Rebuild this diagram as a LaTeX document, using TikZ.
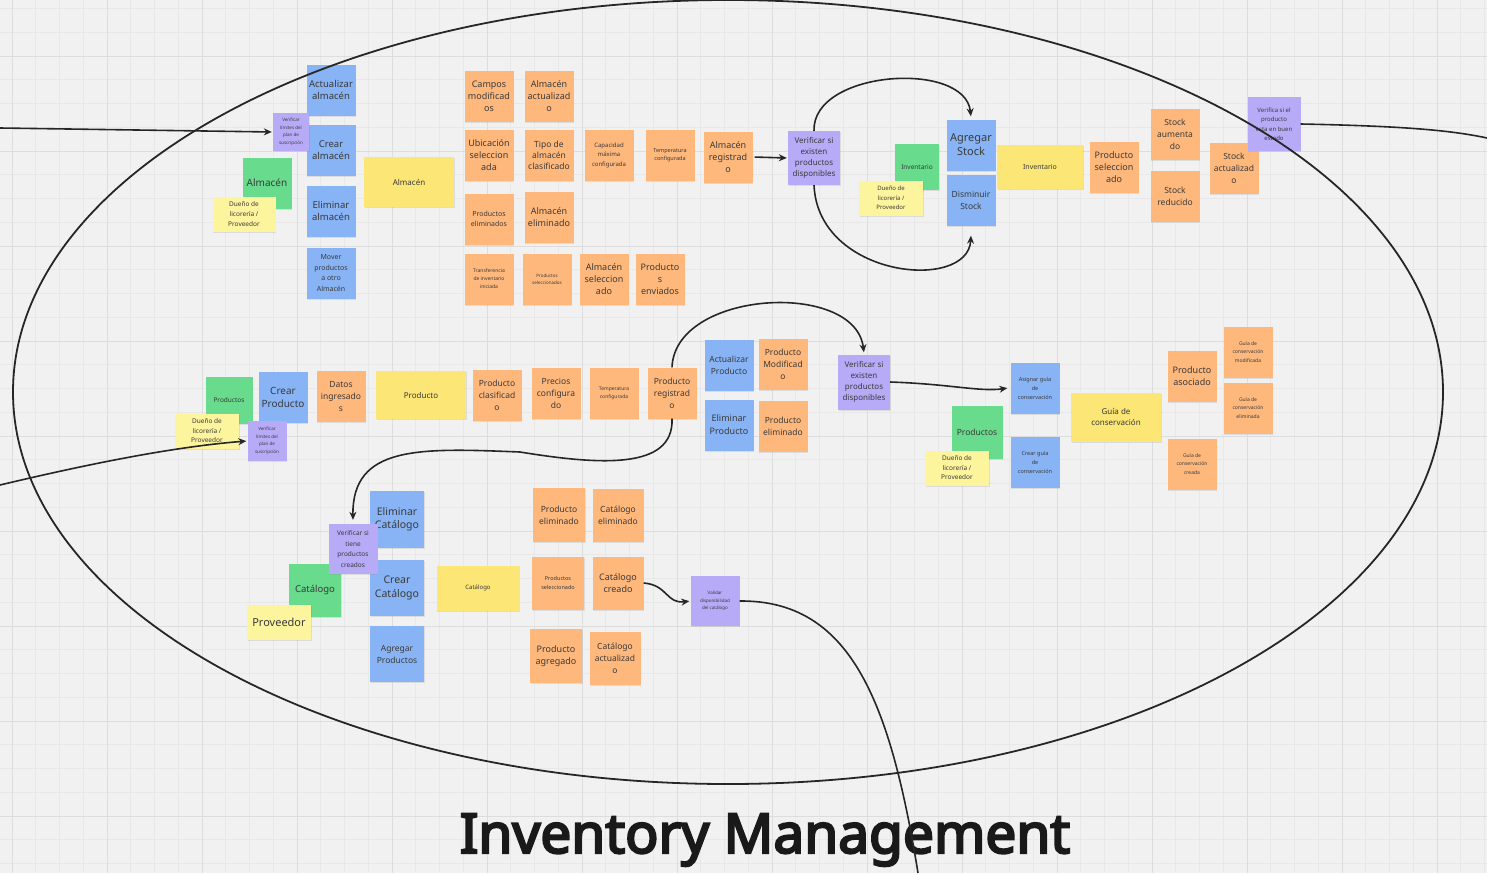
\documentclass[tikz,border=0pt]{standalone}
\usepackage{fontspec}
\setmainfont{Noto Sans}
\newfontfamily\titlefont{Noto Sans}[FakeBold=4]
\usetikzlibrary{arrows.meta,shadows}
\definecolor{paper}{HTML}{F1F1F1}
\definecolor{gridminor}{HTML}{E8E8E8}
\definecolor{gridmajor}{HTML}{DDDDDD}
\definecolor{ink}{HTML}{3A3A3A}
\definecolor{wire}{HTML}{262626}
\definecolor{cmdfill}{HTML}{88B4F6}
\definecolor{evtfill}{HTML}{FFB87C}
\definecolor{aggfill}{HTML}{FCE676}
\definecolor{usrfill}{HTML}{FDF59D}
\definecolor{actfill}{HTML}{68DB8D}
\definecolor{polfill}{HTML}{B7AAF7}
\newcommand\fsz[2]{\fontsize{#1}{#2}\selectfont}

\begin{document}
\begin{tikzpicture}[x=1pt,y=-1pt,
    note/.style={inner sep=1pt, align=center, text=ink, minimum width=49pt, minimum height=51pt,
        drop shadow={shadow xshift=0.7pt, shadow yshift=-1.2pt, opacity=.18}},
    cmdnote/.style={note, fill=cmdfill},
    evtnote/.style={note, fill=evtfill},
    actnote/.style={note, fill=actfill},
    polnote/.style={note, fill=polfill},
    aggnote/.style={note, fill=aggfill, minimum width=90pt, minimum height=49pt},
    usrnote/.style={note, fill=usrfill, minimum width=64pt, minimum height=35pt},
    flow/.style={wire, line width=1.6pt, -{Stealth[length=8pt,width=7pt]}, shorten >=1pt},
    wireline/.style={wire, line width=1.6pt},
    ring/.style={wire, line width=1.8pt}]
	    \useasboundingbox (0,0) rectangle (1487,873);
	    \fill[paper] (0,0) rectangle (1487,873);
	    \foreach \k in {0,...,62} \draw[gridminor, line width=.6pt] ({12+23.75*\k},0) -- ++(0,873);
	    \foreach \k in {0,...,36} \draw[gridminor, line width=.6pt] (0,{8.5+23.75*\k}) -- ++(1487,0);
	    \foreach \k in {0,...,15} \draw[gridmajor, line width=.9pt] ({12+95*\k},0) -- ++(0,873);
	    \foreach \k in {0,...,8} \draw[gridmajor, line width=.9pt] (0,{56+95*\k}) -- ++(1487,0);

	    % Almacen
	    \node[cmdnote, font=\fsz{9.5}{12}] (AA) at (331,90) {Actualizar\\almacén};
	    \node[cmdnote, font=\fsz{9.5}{12}] (AC) at (331,150) {Crear\\almacén};
	    \node[polnote, minimum width=36pt, minimum height=38pt, font=\fsz{4.5}{7.5}] (AB) at (291,132) {Verificar\\límites del\\plan de\\suscripción};
	    \node[actnote, font=\fsz{10}{12}] (AD) at (267,183) {Almacén};
	    \node[usrnote, minimum width=63pt, font=\fsz{6.5}{10}] (AE) at (244,214) {Dueño de\\licorería /\\Proveedor};
	    \node[cmdnote, font=\fsz{9.5}{12}] (AF) at (331,211) {Eliminar\\almacén};
	    \node[cmdnote, font=\fsz{7}{10.5}] (AG) at (331,273) {Mover\\productos\\a otro\\Almacén};
	    \node[aggnote, minimum height=50pt, font=\fsz{8}{10}] (AH) at (409,182) {Almacén};
	    \node[evtnote, font=\fsz{9}{12}] (AI) at (489,96) {Campos\\modificad\\os};
	    \node[evtnote, font=\fsz{9}{12}] (AJ) at (549,96) {Almacén\\actualizad\\o};
	    \node[evtnote, font=\fsz{9}{12}] (AK) at (489,155) {Ubicación\\seleccion\\ada};
	    \node[evtnote, font=\fsz{8.5}{11}] (AL) at (549,155) {Tipo de\\almacén\\clasificado};
	    \node[evtnote, font=\fsz{6}{9.5}] (AM) at (609,155) {Capacidad\\máxima\\configurada};
	    \node[evtnote, font=\fsz{5.5}{8}] (AN) at (670,155) {Temperatura\\configurada};
	    \node[evtnote, font=\fsz{7}{10.5}] (AO) at (489,219) {Productos\\eliminados};
	    \node[evtnote, font=\fsz{9}{12}] (AP) at (549,217) {Almacén\\eliminado};
	    \node[evtnote, font=\fsz{5}{8}] (AQ) at (489,279) {Transferencia\\de inventario\\iniciada};
	    \node[evtnote, font=\fsz{4.5}{7}] (AR) at (547,279) {Productos\\seleccionados};
	    \node[evtnote, font=\fsz{9}{12}] (AS) at (604,279) {Almacén\\seleccion\\ado};
	    \node[evtnote, font=\fsz{9}{12}] (AT) at (660,279) {Producto\\s\\enviados};
	    \node[evtnote, font=\fsz{9}{12}] (AU) at (728,157) {Almacén\\registrad\\o};

	    % Inventario
	    \node[polnote, minimum width=52pt, minimum height=54pt, font=\fsz{8}{11}] (BA) at (814,158) {Verificar si\\existen\\productos\\disponibles};
	    \node[actnote, minimum width=44pt, minimum height=46pt, font=\fsz{6.5}{9}] (BB) at (917,167) {Inventario};
	    \node[usrnote, font=\fsz{6}{9.5}] (BC) at (891,198) {Dueño de\\licorería /\\Proveedor};
	    \node[cmdnote, font=\fsz{11}{14}] (BD) at (971,145) {Agregar\\Stock};
	    \node[cmdnote, font=\fsz{8.5}{12}] (BE) at (971,200) {Disminuir\\Stock};
	    \node[aggnote, minimum width=86pt, minimum height=44pt, font=\fsz{7}{9}] (BF) at (1040,167) {Inventario};
	    \node[evtnote, font=\fsz{9}{12}] (BG) at (1114,167) {Producto\\seleccion\\ado};
	    \node[evtnote, font=\fsz{8.5}{12}] (BH) at (1175,134) {Stock\\aumenta\\do};
	    \node[evtnote, font=\fsz{8.5}{12}] (BI) at (1175,196) {Stock\\reducido};
	    \node[evtnote, font=\fsz{8.5}{12}] (BJ) at (1234,168) {Stock\\actualizad\\o};
	    \node[polnote, minimum width=53pt, minimum height=54pt, font=\fsz{6}{9.5}] (BK) at (1274,124) {Verifica si el\\producto\\esta en buen\\estado};

	    % Producto
	    \node[actnote, minimum width=47pt, minimum height=47pt, font=\fsz{6.5}{9}] (CA) at (229,400) {Productos};
	    \node[cmdnote, font=\fsz{10}{13}] (CB) at (283,397) {Crear\\Producto};
	    \node[usrnote, font=\fsz{6.5}{9.5}] (CF) at (207,431) {Dueño de\\licorería /\\Proveedor};
	    \node[polnote, minimum width=39pt, minimum height=40pt, font=\fsz{4.5}{7.5}] (CG) at (267,441) {Verificar\\límites del\\plan de\\suscripción};
	    \node[evtnote, font=\fsz{8.5}{12}] (CC) at (341,396) {Datos\\ingresado\\s};
	    \node[aggnote, minimum height=48pt, font=\fsz{8}{10}] (CD) at (421,395) {Producto};
	    \node[evtnote, font=\fsz{8.5}{12}] (CE) at (497,395) {Producto\\clasificad\\o};
	    \node[evtnote, font=\fsz{8.5}{12}] (CH) at (556,393) {Precios\\configura\\do};
	    \node[evtnote, font=\fsz{5}{8}] (CI) at (614,393) {Temperatura\\configurada};
	    \node[evtnote, font=\fsz{8.5}{12}] (CJ) at (672,393) {Producto\\registrad\\o};
	    \node[cmdnote, font=\fsz{8.5}{12}] (CK) at (729,365) {Actualizar\\Producto};
	    \node[evtnote, font=\fsz{8.5}{12}] (CL) at (783,364) {Producto\\Modificad\\o};
	    \node[cmdnote, font=\fsz{9}{13}] (CM) at (729,425) {Eliminar\\Producto};
	    \node[evtnote, font=\fsz{8.5}{12}] (CN) at (783,426) {Producto\\eliminado};
	    \node[polnote, minimum width=52pt, minimum height=55pt, font=\fsz{8}{11}] (CO) at (864,382) {Verificar si\\existen\\productos\\disponibles};

	    % Guia de conservacion
	    \node[cmdnote, font=\fsz{5.5}{9}] (DA) at (1035,388) {Asignar guía\\de\\conservación};
	    \node[actnote, minimum width=51pt, minimum height=53pt, font=\fsz{8.5}{11}] (DB) at (977,432) {Productos};
	    \node[usrnote, font=\fsz{6.5}{9.5}] (DC) at (957,468) {Dueño de\\licorería /\\Proveedor};
	    \node[cmdnote, font=\fsz{5.5}{9}] (DD) at (1035,462) {Crear guía\\de\\conservación};
	    \node[aggnote, font=\fsz{8}{11}] (DE) at (1116,417) {Guía de\\conservación};
	    \node[evtnote, font=\fsz{9}{12}] (DF) at (1192,376) {Producto\\asociado};
	    \node[evtnote, font=\fsz{5}{8.5}] (DG) at (1248,352) {Guía de\\conservación\\modificada};
	    \node[evtnote, font=\fsz{5}{8.5}] (DH) at (1248,408) {Guía de\\conservación\\eliminada};
	    \node[evtnote, font=\fsz{5}{8.5}] (DI) at (1192,464) {Guía de\\conservación\\creada};

	    % Catalogo
	    \node[cmdnote, minimum width=54pt, minimum height=57pt, font=\fsz{10.5}{13}] (EA) at (397,519) {Eliminar\\Catálogo};
	    \node[cmdnote, minimum width=54pt, minimum height=56pt, font=\fsz{10.5}{14}] (EE) at (397,588) {Crear\\Catálogo};
	    \node[cmdnote, minimum width=54pt, minimum height=56pt, font=\fsz{8.5}{12}] (EG) at (397,654) {Agregar\\Productos};
	    \node[actnote, minimum width=52pt, minimum height=53pt, font=\fsz{9.5}{12}] (EC) at (315,590) {Catálogo};
	    \node[polnote, minimum height=50pt, font=\fsz{6.5}{10.5}] (EB) at (353,549) {Verificar si\\tiene\\productos\\creados};
	    \node[usrnote, font=\fsz{11}{13}] (ED) at (279,622) {Proveedor};
	    \node[aggnote, minimum width=83pt, minimum height=45pt, font=\fsz{6}{8}] (EF) at (478,588) {Catálogo};
	    \node[evtnote, minimum width=52pt, minimum height=54pt, font=\fsz{8.5}{12}] (EH) at (559,515) {Producto\\eliminado};
	    \node[evtnote, minimum width=51pt, minimum height=53pt, font=\fsz{8.5}{12}] (EI) at (618,515) {Catálogo\\eliminado};
	    \node[evtnote, minimum width=52pt, minimum height=53pt, font=\fsz{5.5}{9}] (EJ) at (558,583) {Productos\\seleccionado};
	    \node[evtnote, minimum width=51pt, minimum height=53pt, font=\fsz{9}{12}] (EK) at (618,583) {Catálogo\\creado};
	    \node[polnote, minimum height=50pt, font=\fsz{4.5}{7.5}] (EL) at (715,601) {Validar\\disponibilidad\\del catálogo};
	    \node[evtnote, minimum width=52pt, minimum height=54pt, font=\fsz{9}{12}] (EM) at (556,656) {Producto\\agregado};
	    \node[evtnote, minimum width=51pt, minimum height=53pt, font=\fsz{8.5}{12}] (EN) at (615,658) {Catálogo\\actualizad\\o};

	    \node[anchor=base, inner sep=0pt, text=black!90, font=\titlefont\fsz{55}{60}] (TT) at (765,853) {Inventory Management};

	    % loose ends off the board
	    \coordinate (LA) at (0,128);
	    \coordinate (LB) at (0,485);
	    \coordinate (LC) at (918,873);
	    \coordinate (LD) at (1487,138);

	    \draw[ring] (728,392) ellipse [x radius=715pt, y radius=392pt];

	    \draw[flow] (LA) -- (AB.west);
	    \draw[flow] (LB) .. controls (80,466) and (170,447) .. (CG.west);
	    \draw[flow, shorten <=2pt] (AU.east) -- (BA.west);
	    \draw[flow] (BA.north) .. controls (812,70) and (965,60) .. ([yshift=2pt]BD.north);
	    \draw[flow] (BA.south) .. controls (818,278) and (968,292) .. ([yshift=-9pt]BE.south);
	    \draw[wireline] (BK.east) .. controls (1400,126) and (1450,130) .. (LD);
	    \draw[flow] (CJ.north) .. controls (675,290) and (855,280) .. ([yshift=1pt]CO.north);
	    \draw[flow] (CJ.south) .. controls (674,470) and (600,465) .. (520,452) .. controls (420,448) and (352,445) .. ([yshift=3pt]EB.north);
	    \draw[flow] (CO.east) .. controls (950,384) and (980,392) .. ([xshift=-2pt]DA.west);
	    \draw[flow] (EK.east) .. controls (668,585) and (666,604) .. (EL.west);
	    \draw[wireline] (EL.east) .. controls (850,600) and (890,700) .. (LC);
\end{tikzpicture}
\end{document}
